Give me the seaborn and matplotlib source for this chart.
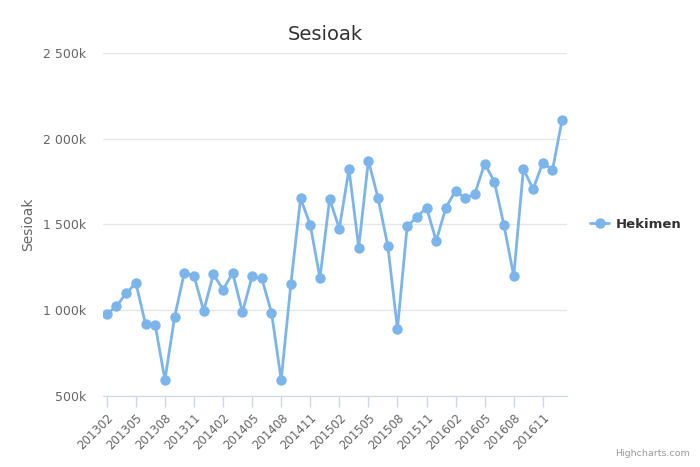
import pandas as pd
import seaborn as sns
import matplotlib.pyplot as plt
from matplotlib.ticker import FuncFormatter

# Hilabeteak (urtea + hilabetea)
hilabeteak = [
    "201302", "201303", "201304", "201305", "201306", "201307", "201308", "201309",
    "201310", "201311", "201312", "201401", "201402", "201403", "201404", "201405",
    "201406", "201407", "201408", "201409", "201410", "201411", "201412", "201501",
    "201502", "201503", "201504", "201505", "201506", "201507", "201508", "201509",
    "201510", "201511", "201512", "201601", "201602", "201603", "201604", "201605",
    "201606", "201607", "201608", "201609", "201610", "201611", "201612", "201701",
]

# Sesio kopurua (milakotan irakurrita grafikotik)
sesioak_k = [
    976, 1024, 1098, 1159, 919, 913, 594, 961,
    1217, 1201, 996, 1209, 1120, 1217, 988, 1197,
    1185, 986, 594, 1152, 1652, 1498, 1187, 1648,
    1475, 1823, 1365, 1872, 1653, 1377, 891, 1488,
    1543, 1598, 1404, 1598, 1696, 1651, 1680, 1854,
    1749, 1494, 1199, 1823, 1705, 1860, 1817, 2111,
]

serie_izena = "Hekimen"

df = pd.DataFrame({"hilabetea": hilabeteak,
                   "sesioak": [v * 1000 for v in sesioak_k]})

sns.set_style("white")
plt.rcParams["font.family"] = ["DejaVu Sans"]

fig = plt.figure(figsize=(7, 4.67), dpi=100)
ax = fig.add_axes([0.147, 0.152, 0.663, 0.735])

sns.lineplot(data=df, x="hilabetea", y="sesioak", ax=ax, color="#7cb5ec",
             linewidth=2, marker="o", markersize=7.5, markeredgewidth=0,
             label=serie_izena)

ax.set_ylim(500000, 2500000)
ax.set_yticks([500000, 1000000, 1500000, 2000000, 2500000])
ax.yaxis.set_major_formatter(
    FuncFormatter(lambda v, p: f"{v / 1000:,.0f}k".replace(",", " ")))
ax.set_xlim(-0.4, len(hilabeteak) - 0.5)
ax.set_xticks(range(0, len(hilabeteak), 3))
ax.set_xticklabels(hilabeteak[::3], rotation=45, ha="right",
                   rotation_mode="anchor")

ax.grid(axis="y", color="#e6e6e6", linewidth=1)
ax.set_axisbelow(True)
for s in ["top", "right", "left"]:
    ax.spines[s].set_visible(False)
ax.spines["bottom"].set_color("#ccd6eb")
ax.tick_params(axis="x", colors="#666666", labelsize=8.5, length=8,
               width=1, direction="out", bottom=True, color="#ccd6eb", pad=3)
ax.tick_params(axis="y", colors="#666666", labelsize=9, length=0, pad=12)

ax.set_xlabel("")
ax.set_ylabel("Sesioak", color="#666666", fontsize=10, labelpad=6)
ax.set_title("Sesioak", fontsize=14, color="#333333", pad=9, x=0.48)

leg = ax.legend(loc="center left", bbox_to_anchor=(1.025, 0.5), frameon=False,
                handlelength=1.4, handletextpad=0.5,
                prop={"weight": "bold", "size": 9.5})
for t in leg.get_texts():
    t.set_color("#333333")

fig.text(0.986, 0.02, "Highcharts.com", ha="right", va="bottom",
         fontsize=6.8, color="#999999")

plt.savefig("out.png", dpi=100)
